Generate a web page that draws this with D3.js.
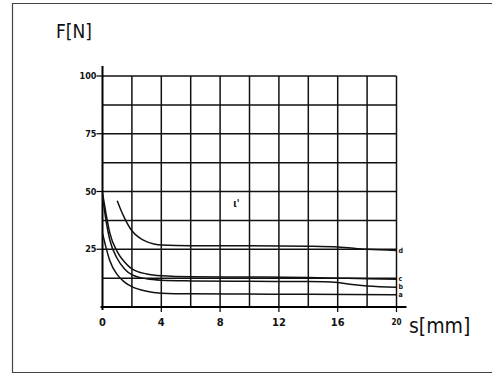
<!DOCTYPE html>
<head>
    <meta charset="utf-8">
    <title>F over s</title>
    <script src="https://d3js.org/d3.v7.min.js"></script>
    <style>
        body { margin: 0; background: #fff; }
        text { font-family: "DejaVu Sans Condensed", "DejaVu Sans", sans-serif; fill: #111; }
    </style>
</head>
<body>
    <div id="container"></div>
    <script>
        //---------------------------DATA---------------------------//
        var xTicks = [0, 4, 8, 12, 16, 20]
        var yTicks = [25, 50, 75, 100]
        var xGrid = [2, 4, 6, 8, 10, 12, 14, 16, 18, 20]
        var yGrid = [12.5, 25, 37.5, 50, 62.5, 75, 87.5, 100]

        var curveA = [[0, 32], [0.25, 25.5], [0.5, 20], [1, 14], [1.5, 10.8], [2, 8.8], [3, 6.8], [4, 6], [6, 5.7], [10, 5.6], [14, 5.5], [20, 5.3]]
        var curveB = [[0, 48], [0.25, 37], [0.5, 29], [1, 21], [1.5, 16.5], [2, 14], [3, 12.2], [4, 11.6], [6, 11.3], [10, 11.1], [14, 11], [16, 10.6], [17, 9.7], [18, 9.1], [20, 8.6]]
        var curveC = [[0, 49.5], [0.25, 40], [0.5, 32], [1, 24], [1.5, 19.5], [2, 16.5], [3, 14.3], [4, 13.5], [6, 13.1], [10, 13], [14, 12.8], [16, 12.5], [18, 12.2], [20, 12]]
        var curveD = [[1, 46], [1.25, 42], [1.5, 38.5], [2, 33], [2.5, 30], [3, 28.3], [3.5, 27.3], [4, 26.8], [6, 26.5], [10, 26.5], [14, 26.3], [16, 26], [18, 25], [20, 24.5]]
        var curveNames = ["a", "b", "c", "d"]

        //---------------------------SVG----------------------------//
        var W = 492, H = 376
        var margin = { top: 76, left: 102.5 }
        var width = 294, height = 231

        var svg = d3.select("#container").append("svg")
            .attr("width", W).attr("height", H)

        svg.append("rect").attr("width", W).attr("height", H).attr("fill", "#fff")

        // outer frame
        svg.append("path")
            .attr("d", "M" + (W + 2) + ",3.5 H12.5 V372.5 H" + (W + 2))
            .attr("fill", "none").attr("stroke", "#444").attr("stroke-width", 1.2)

        var g = svg.append("g").attr("transform", "translate(" + margin.left + "," + margin.top + ")")

        var x = d3.scaleLinear().domain([0, 20]).range([0, width])
        var y = d3.scaleLinear().domain([0, 100]).range([height, 0])

        //---------------------------GRID---------------------------//
        g.selectAll(".vgrid").data(xGrid).enter().append("line")
            .attr("x1", function (d) { return x(d) }).attr("x2", function (d) { return x(d) })
            .attr("y1", y(0)).attr("y2", y(100))
            .attr("stroke", "#111").attr("stroke-width", 1.5)

        g.selectAll(".hgrid").data(yGrid).enter().append("line")
            .attr("x1", x(0)).attr("x2", x(20))
            .attr("y1", function (d) { return y(d) }).attr("y2", function (d) { return y(d) })
            .attr("stroke", "#111").attr("stroke-width", 1.5)

        //---------------------------AXES---------------------------//
        g.append("line").attr("x1", 0).attr("x2", 0).attr("y1", height + 3).attr("y2", y(100) - 10)
            .attr("stroke", "#000").attr("stroke-width", 2)
        g.append("line").attr("x1", -2).attr("x2", x(20) + 10).attr("y1", height).attr("y2", height)
            .attr("stroke", "#000").attr("stroke-width", 2)

        var yAxis = g.append("g")
        yAxis.selectAll("line").data(yTicks).enter().append("line")
            .attr("x1", -6).attr("x2", 0)
            .attr("y1", function (d) { return y(d) }).attr("y2", function (d) { return y(d) })
            .attr("stroke", "#000").attr("stroke-width", 1.2)
        yAxis.selectAll("text").data(yTicks).enter().append("text")
            .attr("x", -6).attr("y", function (d) { return y(d) }).attr("dy", "0.35em")
            .attr("text-anchor", "end").attr("font-size", 9).attr("font-weight", "bold")
            .text(function (d) { return d })

        var xAxis = g.append("g")
        xAxis.selectAll("line").data(xTicks.slice(1)).enter().append("line")
            .attr("x1", function (d) { return x(d) }).attr("x2", function (d) { return x(d) })
            .attr("y1", height).attr("y2", height + 5)
            .attr("stroke", "#000").attr("stroke-width", 1.2)
        xAxis.selectAll("text").data(xTicks).enter().append("text")
            .attr("x", function (d) { return x(d) }).attr("y", height + 15)
            .attr("dy", "0.35em").attr("text-anchor", "middle")
            .attr("font-size", function (d) { return d === 20 ? 8 : 11 }).attr("font-weight", "bold")
            .text(function (d) { return d })

        //---------------------------CURVES---------------------------//
        var line = d3.line()
            .x(function (d) { return x(d[0]) })
            .y(function (d) { return y(d[1]) })
            .curve(d3.curveMonotoneX)

        var curves = [curveA, curveB, curveC, curveD]
        g.selectAll(".curve").data(curves).enter().append("path")
            .attr("class", "curve")
            .attr("d", line)
            .attr("fill", "none").attr("stroke", "#111").attr("stroke-width", 1.5)

        g.selectAll(".clabel").data(curves).enter().append("text")
            .attr("x", x(20) + 2)
            .attr("y", function (d) { return y(d[d.length - 1][1]) })
            .attr("dy", "0.3em").attr("font-size", 7).attr("font-weight", "bold")
            .text(function (d, i) { return curveNames[i] })

        g.append("text").attr("x", x(8.9)).attr("y", y(43.5))
            .attr("font-size", 10).attr("font-weight", "bold").text("ι'")

        //---------------------------TITLES---------------------------//
        svg.append("text").attr("x", 56).attr("y", 38)
            .attr("font-size", 19).text("F[N]")
        svg.append("text").attr("x", 409).attr("y", 333)
            .attr("font-size", 21).text("s[mm]")
    </script>
</body>
